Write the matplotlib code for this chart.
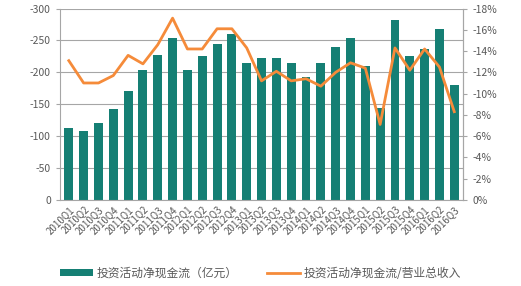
import matplotlib
matplotlib.use("Agg")
import matplotlib.pyplot as plt
from matplotlib.ticker import FuncFormatter
import numpy as np

plt.rcParams['font.family'] = ['Noto Sans CJK SC', 'DejaVu Sans']
plt.rcParams['axes.unicode_minus'] = False

quarters = ['2010Q1', '2010Q2', '2010Q3', '2010Q4',
            '2011Q1', '2011Q2', '2011Q3', '2011Q4',
            '2012Q1', '2012Q2', '2012Q3', '2012Q4',
            '2013Q1', '2013Q2', '2013Q3', '2013Q4',
            '2014Q1', '2014Q2', '2014Q3', '2014Q4',
            '2015Q1', '2015Q2', '2015Q3', '2015Q4',
            '2016Q1', '2016Q2', '2016Q3']

# net investing cash flow (100m yuan)
cash_flow = [-112, -108, -120, -142, -171, -203, -227, -254,
             -203, -226, -245, -260, -214, -222, -222, -214,
             -192, -214, -240, -254, -210, -144, -282, -225,
             -237, -268, -180]

# net investing cash flow / total revenue (%)
ratio = [-13.1, -11.0, -11.0, -11.7, -13.6, -12.8, -14.6, -17.1,
         -14.2, -14.2, -16.1, -16.1, -14.3, -11.2, -12.1, -11.2,
         -11.4, -10.7, -12.0, -12.9, -12.4, -7.1, -14.3, -12.2,
         -14.2, -12.5, -8.3]

teal = '#157F74'
orange = '#F58B3A'
grey_txt = '#595959'
grid_c = '#A6A6A6'

fig = plt.figure(figsize=(5.21, 2.86), dpi=100)
ax = fig.add_axes([0.115, 0.301, 0.774, 0.669])
x = np.arange(len(quarters))

bars = ax.bar(x, cash_flow, width=0.6, color=teal, zorder=2)
ax.set_ylim(0, -300)
ax.set_yticks(np.arange(0, -301, -50))
ax.set_xlim(-0.6, len(quarters) - 0.4)
ax.grid(axis='y', color=grid_c, linewidth=0.8, zorder=0)
ax.set_xticks(x)
ax.set_xticklabels(quarters, rotation=45, ha='right', rotation_mode='anchor',
                   fontsize=7, color=grey_txt)
ax.tick_params(axis='y', labelsize=7.5, colors=grey_txt, length=3, color=grid_c)
ax.tick_params(axis='x', length=0, pad=3)
ax.spines['top'].set_visible(False)
for s in ['left', 'right', 'bottom']:
    ax.spines[s].set_color(grid_c)

ax2 = ax.twinx()
line, = ax2.plot(x, np.array(ratio) / 100, color=orange, linewidth=2)
ax2.set_ylim(0, -0.18)
ax2.set_yticks(np.arange(0, -0.181, -0.02))
ax2.yaxis.set_major_formatter(FuncFormatter(lambda v, p: '%d%%' % round(v * 100)))
ax2.tick_params(axis='y', labelsize=7.5, colors=grey_txt, length=3, color=grid_c)
ax2.spines['top'].set_visible(False)
ax2.spines['right'].set_color(grid_c)
ax2.spines['left'].set_visible(False)
ax2.spines['bottom'].set_visible(False)

fig.legend([bars, line], ['投资活动净现金流（亿元）', '投资活动净现金流/营业总收入'],
           loc='center', bbox_to_anchor=(0.5, 0.045), ncol=2, frameon=False,
           fontsize=8.5, handlelength=2.8, handleheight=0.6, columnspacing=2.5,
           handletextpad=0.3, labelcolor=grey_txt)

fig.savefig('out.png', dpi=100)
